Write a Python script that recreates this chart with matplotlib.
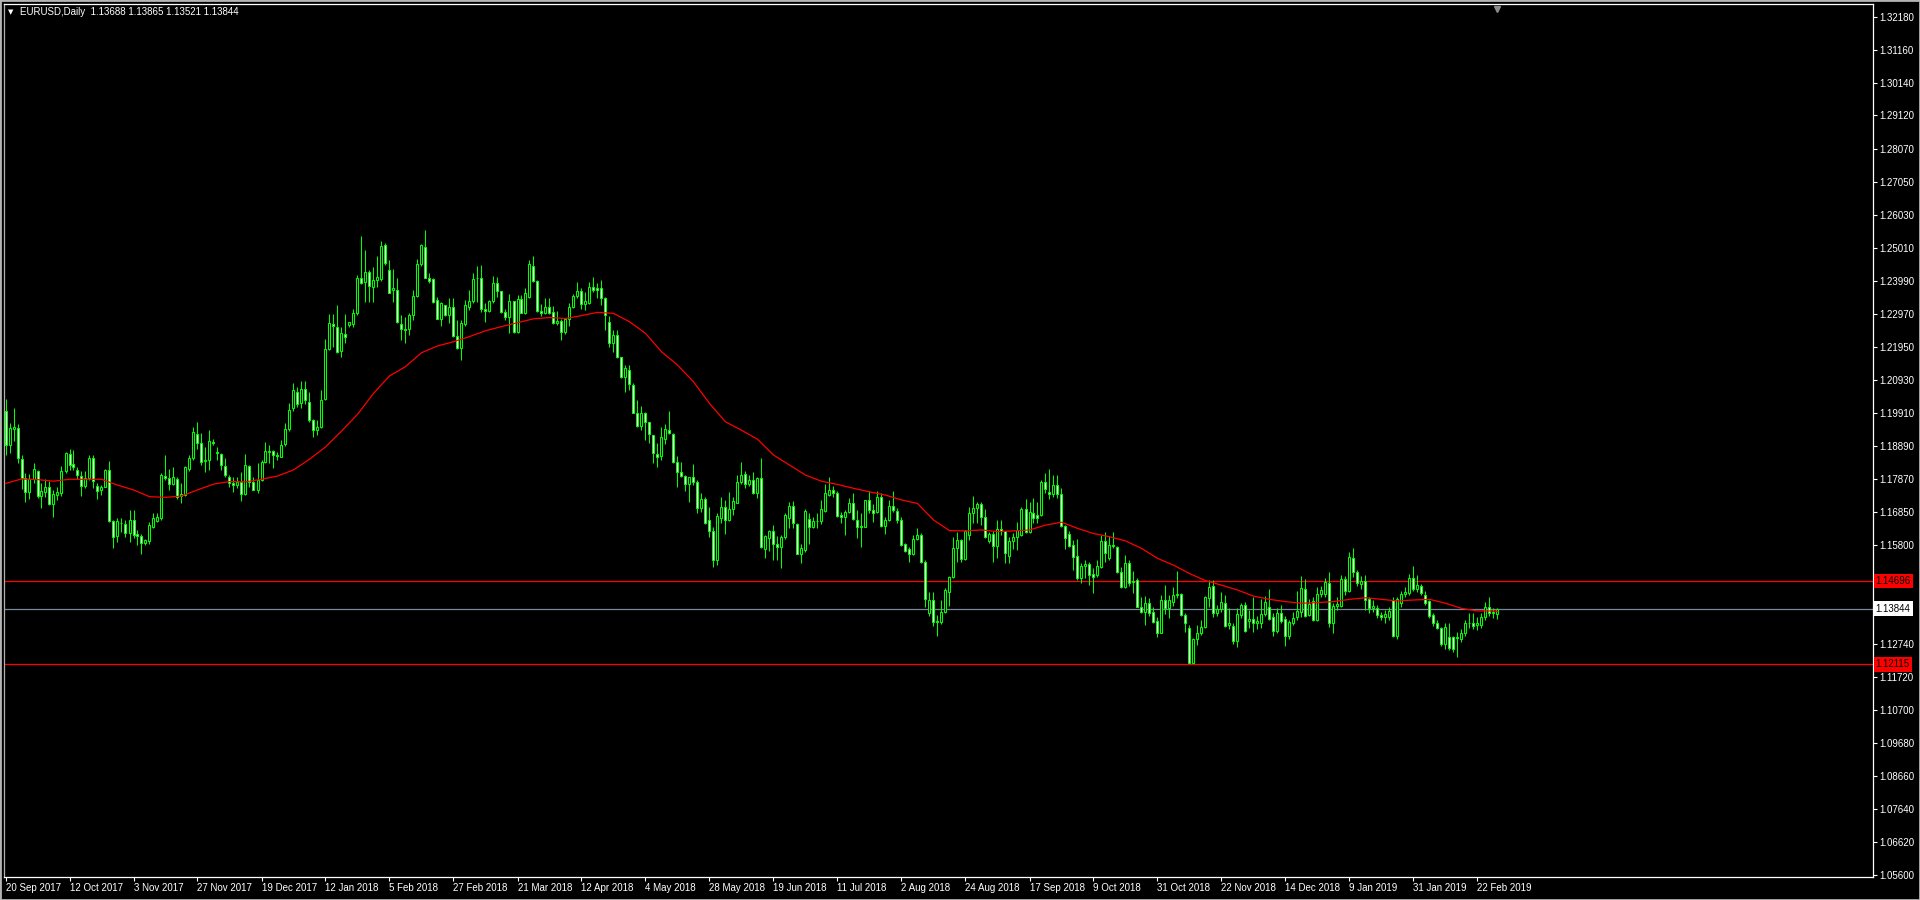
import matplotlib
matplotlib.use('Agg')
import matplotlib.pyplot as plt
import matplotlib.transforms as mtransforms
from matplotlib.patches import Rectangle
import numpy as np

# EURUSD daily bars, 20 Sep 2017 .. 1 Mar 2019
opens = [
    1.1995, 1.1891, 1.1940, 1.1945, 1.1848, 1.1790, 1.1747, 1.1785, 1.1810, 1.1733,
    1.1745, 1.1760, 1.1707, 1.1735, 1.1742, 1.1810, 1.1862, 1.1832, 1.1815, 1.1795,
    1.1765, 1.1788, 1.1850, 1.1765, 1.1752, 1.1762, 1.1814, 1.1655, 1.1608, 1.1650,
    1.1646, 1.1619, 1.1658, 1.1617, 1.1608, 1.1588, 1.1595, 1.1638, 1.1657, 1.1666,
    1.1795, 1.1790, 1.1770, 1.1787, 1.1734, 1.1735, 1.1818, 1.1850, 1.1924, 1.1896,
    1.1843, 1.1845, 1.1902, 1.1870, 1.1862, 1.1827, 1.1792, 1.1773, 1.1768, 1.1775,
    1.1740, 1.1827, 1.1777, 1.1753, 1.1782, 1.1840, 1.1871, 1.1874, 1.1860, 1.1855,
    1.1893, 1.1940, 1.2005, 1.2056, 1.2020, 1.2065, 1.2025, 1.1968, 1.1937, 1.1948,
    1.2035, 1.2190, 1.2265, 1.2258, 1.2182, 1.2235, 1.2262, 1.2265, 1.2299, 1.2407,
    1.2395, 1.2426, 1.2382, 1.2403, 1.2405, 1.2510, 1.2433, 1.2370, 1.2372, 1.2265,
    1.2250, 1.2249, 1.2293, 1.2353, 1.2452, 1.2504, 1.2407, 1.2405, 1.2340, 1.2283,
    1.2325, 1.2293, 1.2318, 1.2230, 1.2192, 1.2265, 1.2320, 1.2337, 1.2407, 1.2410,
    1.2312, 1.2307, 1.2337, 1.2392, 1.2368, 1.2303, 1.2288, 1.2337, 1.2242, 1.2342,
    1.2301, 1.2350, 1.2447, 1.2400, 1.2307, 1.2300, 1.2318, 1.2303, 1.2270, 1.2275,
    1.2240, 1.2281, 1.2318, 1.2352, 1.2368, 1.2328, 1.2330, 1.2380, 1.2376, 1.2376,
    1.2345, 1.2271, 1.2206, 1.2232, 1.2163, 1.2103, 1.2124, 1.2077, 1.1991, 1.1951,
    1.1989, 1.1963, 1.1922, 1.1863, 1.1858, 1.1909, 1.1939, 1.1925, 1.1839, 1.1808,
    1.1795, 1.1769, 1.1791, 1.1778, 1.1697, 1.1723, 1.1660, 1.1625, 1.1535, 1.1666,
    1.1698, 1.1660, 1.1694, 1.1713, 1.1775, 1.1800, 1.1770, 1.1784, 1.1743, 1.1790,
    1.1568, 1.1602, 1.1625, 1.1586, 1.1576, 1.1605, 1.1664, 1.1702, 1.1645, 1.1555,
    1.1567, 1.1663, 1.1638, 1.1656, 1.1657, 1.1688, 1.1736, 1.1751, 1.1744, 1.1674,
    1.1669, 1.1684, 1.1710, 1.1660, 1.1641, 1.1638, 1.1722, 1.1690, 1.1685, 1.1729,
    1.1640, 1.1658, 1.1703, 1.1688, 1.1660, 1.1585, 1.1568, 1.1555, 1.1599, 1.1612,
    1.1528, 1.1372, 1.1411, 1.1345, 1.1343, 1.1375, 1.1437, 1.1481, 1.1571, 1.1597,
    1.1537, 1.1612, 1.1680, 1.1695, 1.1708, 1.1669, 1.1595, 1.1617, 1.1578, 1.1630,
    1.1624, 1.1548, 1.1595, 1.1605, 1.1612, 1.1692, 1.1623, 1.1681, 1.1675, 1.1674,
    1.1778, 1.1747, 1.1740, 1.1767, 1.1740, 1.1640, 1.1617, 1.1581, 1.1547, 1.1478,
    1.1516, 1.1522, 1.1491, 1.1488, 1.1514, 1.1595, 1.1540, 1.1581, 1.1575, 1.1499,
    1.1452, 1.1525, 1.1466, 1.1473, 1.1390, 1.1375, 1.1402, 1.1375, 1.1345, 1.1310,
    1.1411, 1.1385, 1.1406, 1.1426, 1.1429, 1.1365, 1.1323, 1.1216, 1.1289, 1.1308,
    1.1326, 1.1417, 1.1454, 1.1370, 1.1382, 1.1401, 1.1335, 1.1330, 1.1285, 1.1364,
    1.1396, 1.1347, 1.1351, 1.1341, 1.1339, 1.1368, 1.1390, 1.1357, 1.1316, 1.1370,
    1.1351, 1.1301, 1.1341, 1.1359, 1.1375, 1.1444, 1.1364, 1.1408, 1.1349, 1.1430,
    1.1430, 1.1465, 1.1341, 1.1392, 1.1393, 1.1475, 1.1440, 1.1540, 1.1499, 1.1460,
    1.1471, 1.1413, 1.1385, 1.1385, 1.1364, 1.1359, 1.1359, 1.1410, 1.1299, 1.1401,
    1.1430, 1.1432, 1.1478, 1.1444, 1.1454, 1.1427, 1.1408, 1.1364, 1.1339, 1.1323,
    1.1275, 1.1297, 1.1295, 1.1292, 1.1289, 1.1310, 1.1339, 1.1339, 1.1334, 1.1334,
    1.1357, 1.1388, 1.1370, 1.13688,
]
highs = [
    1.2035, 1.1958, 1.2005, 1.1955, 1.1860, 1.1805, 1.1800, 1.1835, 1.1815, 1.1772,
    1.1785, 1.1780, 1.1752, 1.1760, 1.1827, 1.1870, 1.1880, 1.1875, 1.1822, 1.1810,
    1.1811, 1.1860, 1.1860, 1.1772, 1.1767, 1.1818, 1.1843, 1.1658, 1.1665, 1.1664,
    1.1659, 1.1690, 1.1690, 1.1627, 1.1617, 1.1601, 1.1653, 1.1680, 1.1679, 1.1803,
    1.1861, 1.1818, 1.1822, 1.1793, 1.1773, 1.1826, 1.1860, 1.1948, 1.1961, 1.1927,
    1.1886, 1.1937, 1.1910, 1.1885, 1.1865, 1.1850, 1.1797, 1.1793, 1.1793, 1.1808,
    1.1863, 1.1830, 1.1793, 1.1834, 1.1844, 1.1902, 1.1891, 1.1875, 1.1870, 1.1906,
    1.1960, 1.2020, 1.2082, 1.2072, 1.2088, 1.2088, 1.2054, 1.1973, 1.1968, 1.2061,
    1.2221, 1.2297, 1.2296, 1.2325, 1.2258, 1.2298, 1.2273, 1.2311, 1.2417, 1.2538,
    1.2495, 1.2433, 1.2443, 1.2476, 1.2524, 1.2518, 1.2464, 1.2435, 1.2408, 1.2294,
    1.2288, 1.2299, 1.2371, 1.2467, 1.2514, 1.2557, 1.2423, 1.2407, 1.2350, 1.2335,
    1.2325, 1.2348, 1.2345, 1.2278, 1.2278, 1.2340, 1.2371, 1.2423, 1.2446, 1.2448,
    1.2330, 1.2340, 1.2415, 1.2413, 1.2369, 1.2314, 1.2359, 1.2337, 1.2356, 1.2356,
    1.2376, 1.2464, 1.2476, 1.2402, 1.2328, 1.2346, 1.2348, 1.2322, 1.2305, 1.2283,
    1.2283, 1.2332, 1.2359, 1.2397, 1.2377, 1.2366, 1.2397, 1.2413, 1.2392, 1.2402,
    1.2350, 1.2291, 1.2247, 1.2247, 1.2163, 1.2139, 1.2139, 1.2082, 1.2032, 1.2012,
    1.1994, 1.1963, 1.1922, 1.1896, 1.1948, 1.1956, 1.1996, 1.1927, 1.1857, 1.1839,
    1.1798, 1.1793, 1.1832, 1.1782, 1.1741, 1.1731, 1.1700, 1.1638, 1.1679, 1.1731,
    1.1720, 1.1746, 1.1731, 1.1798, 1.1839, 1.1811, 1.1799, 1.1808, 1.1792, 1.1852,
    1.1612, 1.1628, 1.1643, 1.1609, 1.1612, 1.1679, 1.1715, 1.1718, 1.1648, 1.1586,
    1.1692, 1.1679, 1.1667, 1.1681, 1.1720, 1.1770, 1.1793, 1.1763, 1.1749, 1.1684,
    1.1689, 1.1726, 1.1741, 1.1689, 1.1679, 1.1720, 1.1750, 1.1707, 1.1749, 1.1743,
    1.1667, 1.1720, 1.1749, 1.1695, 1.1667, 1.1588, 1.1576, 1.1612, 1.1633, 1.1620,
    1.1535, 1.1437, 1.1437, 1.1364, 1.1411, 1.1447, 1.1485, 1.1605, 1.1623, 1.1599,
    1.1628, 1.1700, 1.1733, 1.1716, 1.1716, 1.1692, 1.1622, 1.1625, 1.1659, 1.1659,
    1.1626, 1.1605, 1.1620, 1.1653, 1.1698, 1.1723, 1.1716, 1.1726, 1.1716, 1.1783,
    1.1804, 1.1816, 1.1798, 1.1798, 1.1757, 1.1643, 1.1626, 1.1597, 1.1599, 1.1525,
    1.1535, 1.1530, 1.1509, 1.1535, 1.1612, 1.1623, 1.1609, 1.1622, 1.1578, 1.1514,
    1.1550, 1.1535, 1.1500, 1.1478, 1.1421, 1.1423, 1.1416, 1.1390, 1.1359, 1.1426,
    1.1457, 1.1426, 1.1452, 1.1500, 1.1432, 1.1370, 1.1333, 1.1292, 1.1333, 1.1349,
    1.1423, 1.1473, 1.1473, 1.1395, 1.1435, 1.1427, 1.1385, 1.1339, 1.1385, 1.1402,
    1.1406, 1.1380, 1.1421, 1.1360, 1.1413, 1.1423, 1.1444, 1.1370, 1.1385, 1.1395,
    1.1361, 1.1350, 1.1375, 1.1440, 1.1486, 1.1475, 1.1415, 1.1420, 1.1452, 1.1455,
    1.1478, 1.1499, 1.1401, 1.1420, 1.1488, 1.1485, 1.1561, 1.1571, 1.1505, 1.1485,
    1.1488, 1.1420, 1.1410, 1.1395, 1.1375, 1.1380, 1.1390, 1.1421, 1.1420, 1.1440,
    1.1450, 1.1490, 1.1515, 1.1488, 1.1460, 1.1440, 1.1412, 1.1370, 1.1350, 1.1328,
    1.1340, 1.1340, 1.1300, 1.1313, 1.1320, 1.1350, 1.1370, 1.1370, 1.1358, 1.1370,
    1.1405, 1.1420, 1.1385, 1.13865,
]
lows = [
    1.1860, 1.1865, 1.1905, 1.1835, 1.1754, 1.1715, 1.1725, 1.1773, 1.1727, 1.1696,
    1.1731, 1.1705, 1.1669, 1.1720, 1.1733, 1.1805, 1.1815, 1.1813, 1.1785, 1.1733,
    1.1757, 1.1783, 1.1757, 1.1724, 1.1735, 1.1760, 1.1654, 1.1573, 1.1592, 1.1623,
    1.1607, 1.1591, 1.1602, 1.1581, 1.1555, 1.1580, 1.1586, 1.1633, 1.1653, 1.1660,
    1.1782, 1.1752, 1.1766, 1.1725, 1.1713, 1.1733, 1.1812, 1.1845, 1.1880, 1.1829,
    1.1808, 1.1813, 1.1890, 1.1845, 1.1815, 1.1793, 1.1762, 1.1746, 1.1757, 1.1718,
    1.1735, 1.1762, 1.1752, 1.1741, 1.1780, 1.1836, 1.1836, 1.1819, 1.1845, 1.1853,
    1.1889, 1.1935, 1.1997, 1.2010, 1.2005, 1.2018, 1.1963, 1.1917, 1.1922, 1.1943,
    1.2030, 1.2185, 1.2196, 1.2175, 1.2165, 1.2208, 1.2258, 1.2256, 1.2294, 1.2390,
    1.2335, 1.2335, 1.2335, 1.2381, 1.2400, 1.2449, 1.2363, 1.2335, 1.2268, 1.2216,
    1.2206, 1.2232, 1.2278, 1.2350, 1.2446, 1.2407, 1.2394, 1.2330, 1.2280, 1.2260,
    1.2290, 1.2268, 1.2227, 1.2190, 1.2156, 1.2260, 1.2309, 1.2330, 1.2335, 1.2304,
    1.2273, 1.2304, 1.2332, 1.2350, 1.2299, 1.2278, 1.2239, 1.2237, 1.2239, 1.2299,
    1.2297, 1.2345, 1.2397, 1.2304, 1.2291, 1.2298, 1.2297, 1.2265, 1.2262, 1.2215,
    1.2234, 1.2259, 1.2315, 1.2348, 1.2312, 1.2309, 1.2328, 1.2365, 1.2345, 1.2325,
    1.2247, 1.2196, 1.2180, 1.2160, 1.2098, 1.2056, 1.2061, 1.1989, 1.1948, 1.1939,
    1.1908, 1.1896, 1.1836, 1.1824, 1.1845, 1.1893, 1.1925, 1.1836, 1.1762, 1.1793,
    1.1748, 1.1715, 1.1767, 1.1679, 1.1684, 1.1646, 1.1606, 1.1512, 1.1519, 1.1648,
    1.1617, 1.1656, 1.1674, 1.1710, 1.1770, 1.1757, 1.1764, 1.1739, 1.1726, 1.1571,
    1.1540, 1.1563, 1.1535, 1.1535, 1.1509, 1.1600, 1.1633, 1.1633, 1.1553, 1.1526,
    1.1560, 1.1586, 1.1633, 1.1633, 1.1646, 1.1684, 1.1733, 1.1729, 1.1669, 1.1650,
    1.1612, 1.1679, 1.1658, 1.1602, 1.1576, 1.1638, 1.1680, 1.1653, 1.1679, 1.1638,
    1.1617, 1.1656, 1.1684, 1.1648, 1.1579, 1.1560, 1.1529, 1.1550, 1.1598, 1.1525,
    1.1390, 1.1360, 1.1330, 1.1300, 1.1338, 1.1372, 1.1392, 1.1478, 1.1530, 1.1530,
    1.1535, 1.1597, 1.1649, 1.1651, 1.1643, 1.1604, 1.1587, 1.1530, 1.1540, 1.1612,
    1.1527, 1.1525, 1.1568, 1.1566, 1.1609, 1.1620, 1.1620, 1.1649, 1.1649, 1.1671,
    1.1741, 1.1723, 1.1731, 1.1726, 1.1638, 1.1568, 1.1574, 1.1504, 1.1473, 1.1465,
    1.1478, 1.1457, 1.1432, 1.1483, 1.1509, 1.1530, 1.1535, 1.1571, 1.1496, 1.1447,
    1.1447, 1.1455, 1.1432, 1.1388, 1.1370, 1.1334, 1.1360, 1.1339, 1.1295, 1.1308,
    1.1369, 1.1354, 1.1393, 1.1416, 1.1362, 1.1313, 1.1215, 1.1215, 1.1271, 1.1302,
    1.1323, 1.1390, 1.1359, 1.1360, 1.1375, 1.1326, 1.1320, 1.1275, 1.1266, 1.1355,
    1.1313, 1.1325, 1.1313, 1.1320, 1.1323, 1.1360, 1.1349, 1.1300, 1.1310, 1.1340,
    1.1268, 1.1290, 1.1335, 1.1350, 1.1359, 1.1357, 1.1360, 1.1345, 1.1347, 1.1420,
    1.1421, 1.1326, 1.1308, 1.1380, 1.1390, 1.1425, 1.1437, 1.1483, 1.1455, 1.1445,
    1.1380, 1.1370, 1.1375, 1.1355, 1.1350, 1.1340, 1.1350, 1.1297, 1.1290, 1.1390,
    1.1420, 1.1425, 1.1440, 1.1435, 1.1425, 1.1397, 1.1355, 1.1330, 1.1320, 1.1270,
    1.1260, 1.1255, 1.1250, 1.1235, 1.1280, 1.1300, 1.1325, 1.1320, 1.1317, 1.1325,
    1.1350, 1.1360, 1.1355, 1.13521,
]
closes = [
    1.1891, 1.1943, 1.1946, 1.1850, 1.1790, 1.1747, 1.1785, 1.1816, 1.1732, 1.1748,
    1.1760, 1.1707, 1.1738, 1.1747, 1.1810, 1.1866, 1.1829, 1.1822, 1.1797, 1.1763,
    1.1788, 1.1852, 1.1781, 1.1750, 1.1760, 1.1815, 1.1656, 1.1607, 1.1655, 1.1648,
    1.1619, 1.1659, 1.1612, 1.1609, 1.1588, 1.1596, 1.1643, 1.1664, 1.1669, 1.1797,
    1.1790, 1.1770, 1.1793, 1.1731, 1.1738, 1.1822, 1.1850, 1.1930, 1.1896, 1.1840,
    1.1846, 1.1905, 1.1896, 1.1866, 1.1830, 1.1798, 1.1772, 1.1767, 1.1775, 1.1740,
    1.1830, 1.1777, 1.1753, 1.1782, 1.1840, 1.1874, 1.1874, 1.1860, 1.1857, 1.1890,
    1.1940, 1.2000, 1.2061, 1.2018, 1.2065, 1.2030, 1.1968, 1.1937, 1.1948, 1.2030,
    1.2190, 1.2268, 1.2260, 1.2178, 1.2239, 1.2225, 1.2271, 1.2299, 1.2407, 1.2392,
    1.2428, 1.2384, 1.2402, 1.2412, 1.2507, 1.2454, 1.2363, 1.2376, 1.2271, 1.2250,
    1.2248, 1.2294, 1.2353, 1.2452, 1.2510, 1.2410, 1.2400, 1.2335, 1.2283, 1.2330,
    1.2295, 1.2318, 1.2230, 1.2192, 1.2268, 1.2325, 1.2337, 1.2404, 1.2410, 1.2311,
    1.2307, 1.2337, 1.2392, 1.2369, 1.2304, 1.2288, 1.2337, 1.2242, 1.2342, 1.2301,
    1.2361, 1.2452, 1.2400, 1.2307, 1.2301, 1.2318, 1.2301, 1.2268, 1.2275, 1.2240,
    1.2280, 1.2319, 1.2352, 1.2368, 1.2328, 1.2337, 1.2380, 1.2372, 1.2370, 1.2345,
    1.2294, 1.2206, 1.2232, 1.2163, 1.2103, 1.2131, 1.2079, 1.1991, 1.1951, 1.1991,
    1.1963, 1.1924, 1.1865, 1.1853, 1.1915, 1.1942, 1.1927, 1.1839, 1.1808, 1.1795,
    1.1769, 1.1793, 1.1778, 1.1697, 1.1723, 1.1648, 1.1625, 1.1535, 1.1670, 1.1698,
    1.1660, 1.1694, 1.1717, 1.1775, 1.1798, 1.1770, 1.1784, 1.1743, 1.1790, 1.1574,
    1.1609, 1.1625, 1.1586, 1.1576, 1.1605, 1.1674, 1.1702, 1.1648, 1.1555, 1.1572,
    1.1687, 1.1637, 1.1656, 1.1657, 1.1692, 1.1744, 1.1751, 1.1744, 1.1671, 1.1669,
    1.1684, 1.1710, 1.1661, 1.1638, 1.1638, 1.1720, 1.1690, 1.1682, 1.1729, 1.1640,
    1.1658, 1.1703, 1.1689, 1.1658, 1.1581, 1.1563, 1.1553, 1.1599, 1.1612, 1.1528,
    1.1413, 1.1411, 1.1344, 1.1343, 1.1375, 1.1442, 1.1483, 1.1571, 1.1597, 1.1537,
    1.1625, 1.1680, 1.1695, 1.1708, 1.1669, 1.1607, 1.1617, 1.1578, 1.1630, 1.1624,
    1.1558, 1.1595, 1.1605, 1.1627, 1.1692, 1.1623, 1.1685, 1.1664, 1.1666, 1.1778,
    1.1754, 1.1740, 1.1767, 1.1740, 1.1640, 1.1602, 1.1578, 1.1545, 1.1478, 1.1516,
    1.1522, 1.1488, 1.1483, 1.1516, 1.1595, 1.1558, 1.1581, 1.1578, 1.1499, 1.1452,
    1.1525, 1.1463, 1.1470, 1.1390, 1.1375, 1.1401, 1.1372, 1.1344, 1.1310, 1.1411,
    1.1385, 1.1411, 1.1426, 1.1429, 1.1365, 1.1339, 1.1216, 1.1289, 1.1308, 1.1326,
    1.1419, 1.1452, 1.1372, 1.1382, 1.1406, 1.1330, 1.1339, 1.1285, 1.1368, 1.1396,
    1.1316, 1.1351, 1.1341, 1.1346, 1.1368, 1.1406, 1.1351, 1.1316, 1.1370, 1.1347,
    1.1301, 1.1344, 1.1354, 1.1377, 1.1447, 1.1361, 1.1399, 1.1349, 1.1430, 1.1442,
    1.1468, 1.1341, 1.1392, 1.1399, 1.1475, 1.1440, 1.1543, 1.1499, 1.1463, 1.1471,
    1.1411, 1.1385, 1.1392, 1.1364, 1.1359, 1.1368, 1.1377, 1.1299, 1.1413, 1.1430,
    1.1437, 1.1478, 1.1444, 1.1457, 1.1434, 1.1403, 1.1361, 1.1339, 1.1323, 1.1275,
    1.1326, 1.1261, 1.1258, 1.1297, 1.1310, 1.1339, 1.1341, 1.1330, 1.1339, 1.1357,
    1.1388, 1.1370, 1.1375, 1.13844,
]

# moving average (red line), read every 4th bar
ma_bar = list(range(0, 373, 4)) + [373]
ma_val = [
    1.1772, 1.1786, 1.1784, 1.1779, 1.1785, 1.1785, 1.1785, 1.1767, 1.1752, 1.1731,
    1.1729, 1.1733, 1.1752, 1.1770, 1.1778, 1.1777, 1.1785, 1.1795, 1.1814, 1.1847,
    1.1885, 1.1934, 1.1986, 1.2051, 1.2105, 1.2134, 1.2177, 1.2198, 1.2211, 1.2227,
    1.2245, 1.2258, 1.2270, 1.2282, 1.2286, 1.2283, 1.2292, 1.2302, 1.2299, 1.2273,
    1.2237, 1.2180, 1.2139, 1.2087, 1.2020, 1.1963, 1.1937, 1.1909, 1.1860, 1.1829,
    1.1798, 1.1779, 1.1769, 1.1757, 1.1746, 1.1736, 1.1721, 1.1710, 1.1659, 1.1626,
    1.1625, 1.1628, 1.1623, 1.1625, 1.1628, 1.1643, 1.1652, 1.1633, 1.1617, 1.1607,
    1.1594, 1.1571, 1.1540, 1.1519, 1.1493, 1.1471, 1.1457, 1.1442, 1.1423, 1.1413,
    1.1406, 1.1401, 1.1403, 1.1406, 1.1413, 1.1418, 1.1413, 1.1408, 1.1411, 1.1413,
    1.1401, 1.1385, 1.1377, 1.1377, 1.1376,
]

hlines = [1.14696, 1.12115]   # red levels
last_price = 1.13844

date_labels = ['20 Sep 2017', '12 Oct 2017', '3 Nov 2017', '27 Nov 2017', '19 Dec 2017',
               '12 Jan 2018', '5 Feb 2018', '27 Feb 2018', '21 Mar 2018', '12 Apr 2018',
               '4 May 2018', '28 May 2018', '19 Jun 2018', '11 Jul 2018', '2 Aug 2018',
               '24 Aug 2018', '17 Sep 2018', '9 Oct 2018', '31 Oct 2018', '22 Nov 2018',
               '14 Dec 2018', '9 Jan 2019', '31 Jan 2019', '22 Feb 2019']
price_ticks = [1.32180, 1.31160, 1.30140, 1.29120, 1.28070, 1.27050, 1.26030, 1.25010,
               1.23990, 1.22970, 1.21950, 1.20930, 1.19910, 1.18890, 1.17870, 1.16850,
               1.15800, 1.12740, 1.11720, 1.10700, 1.09680, 1.08660, 1.07640, 1.06620,
               1.05600]

LIME = '#00ff00'
FONT = ['Liberation Sans', 'DejaVu Sans']
plt.rcParams['font.family'] = FONT

W, H = 1920, 900
fig = plt.figure(figsize=(W / 100, H / 100), dpi=100, facecolor='black')
ax = fig.add_axes([4 / W, 23 / H, (1873 - 4) / W, (877 - 4) / H], facecolor='black')

o = np.array(opens); h = np.array(highs); l = np.array(lows); c = np.array(closes)
x = np.arange(len(o))

ax.axhline(hlines[0], color='#ff0000', lw=0.9, zorder=1)
ax.axhline(hlines[1], color='#ff0000', lw=0.9, zorder=1)
ax.axhline(last_price, color='#778899', lw=0.9, zorder=1)

ax.vlines(x, l, h, color=LIME, lw=0.75, zorder=2)
bull = c >= o
ax.bar(x[bull], (c - o)[bull], bottom=o[bull], width=0.5, facecolor='black',
       edgecolor=LIME, linewidth=0.75, zorder=3)
ax.bar(x[~bull], (o - c)[~bull], bottom=c[~bull], width=0.5, facecolor='white',
       edgecolor=LIME, linewidth=0.75, zorder=3)

ax.plot(ma_bar, ma_val, color='#ff0000', lw=0.9, zorder=4)

ax.set_xlim((4 - 5.5) / 4, (1873 - 5.5) / 4)
ax.set_ylim(1.05529, 1.32573)

for s in ['top', 'right', 'bottom']:
    ax.spines[s].set_color('white')
    ax.spines[s].set_linewidth(0.9)
ax.spines['left'].set_color('#b0b0b0')
ax.spines['left'].set_linewidth(0.9)

ax.yaxis.tick_right()
ax.set_yticks(price_ticks)
ax.set_yticklabels(['%.5f' % v for v in price_ticks])
ax.tick_params(axis='y', colors='white', labelcolor='white', length=3, width=0.8,
               pad=1.5, labelsize=7)
ax.set_xticks(np.arange(0, 16 * len(date_labels), 16))
ax.set_xticklabels(date_labels)
ax.tick_params(axis='x', colors='white', labelcolor='white', length=3, width=0.8,
               pad=1.5, labelsize=7)
for lbl in ax.get_xticklabels():
    lbl.set_horizontalalignment('left')

# price tags on the right scale
tr = mtransforms.blended_transform_factory(ax.transAxes, ax.transData)
for val, fc in [(hlines[0], '#ff0000'), (hlines[1], '#ff0000'), (last_price, 'white')]:
    ax.text(1.0015, val, '%.5f' % val, transform=tr, fontsize=7, color='black',
            va='center', ha='left',
            bbox=dict(boxstyle='square,pad=0.22', fc=fc, ec='none'))

# chart shift marker
trx = mtransforms.blended_transform_factory(ax.transData, ax.transAxes)
ax.plot([373], [0.994], marker='v', ms=5, color='#8c8c8c', transform=trx, clip_on=False)

fig.text(8 / W, 1 - 12 / H, '\u25bc', color='white', fontsize=5, va='center',
         family='DejaVu Sans')
fig.text(20 / W, 1 - 12 / H, 'EURUSD,Daily  1.13688 1.13865 1.13521 1.13844',
         color='white', fontsize=7, va='center')

fig.patches.append(Rectangle((0, 0), 1, 1, transform=fig.transFigure, fill=False,
                             ec='#b4b4b4', lw=2.0))

fig.savefig('out.png', dpi=100, facecolor='black')
